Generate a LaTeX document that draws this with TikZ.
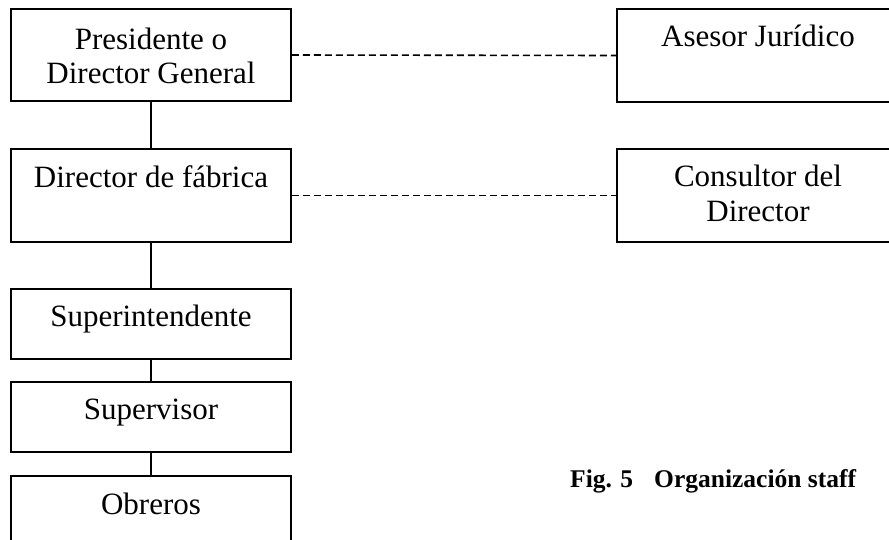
\documentclass[tikz,border=0pt]{standalone}
\usepackage{fontspec}
\setmainfont{Liberation Serif}
\begin{document}
\begin{tikzpicture}[x=1pt,y=-1pt,
  box/.style={draw=black, line width=1.5pt, rectangle, inner sep=0pt},
  lbl/.style={anchor=base, align=center, inner sep=0pt,
    font=\fontsize{31}{34.5}\selectfont},
  staffline/.style={line width=1.6pt, dash pattern=on 7pt off 4pt},
  lineconn/.style={line width=1.5pt}]
  \clip (0,0) rectangle (889,539);
  \fill[white] (0,0) rectangle (889,539);

  % line hierarchy (left column)
  \node[box, minimum width=280pt, minimum height=92pt] (pres) at (151,55) {};
  \node[box, minimum width=280pt, minimum height=93pt] (dir)  at (151,195.5) {};
  \node[box, minimum width=280pt, minimum height=70pt] (sup)  at (151,324) {};
  \node[box, minimum width=280pt, minimum height=70pt] (supv) at (151,417) {};
  \node[box, minimum width=280pt, minimum height=70pt] (obr)  at (151,511) {};

  % staff positions (right column)
  \node[box, minimum width=282pt, minimum height=93pt] (ases) at (758,55.5) {};
  \node[box, minimum width=282pt, minimum height=93pt] (cons) at (758,195.5) {};

  % texts (two-line labels are placed by the baseline of their last line)
  \node[lbl] (tpres) at ([yshift=-75.5pt]pres.north) {Presidente o\\Director General};
  \node[lbl] (tdir)  at ([yshift=-39pt]dir.north)  {Director de fábrica};
  \node[lbl] (tsup)  at ([yshift=-38pt]sup.north)  {Superintendente};
  \node[lbl] (tsupv) at ([yshift=-38pt]supv.north) {Supervisor};
  \node[lbl] (tobr)  at ([yshift=-39pt]obr.north)  {Obreros};
  \node[lbl] (tases) at ([yshift=-38pt]ases.north) {Asesor Jurídico};
  \node[lbl] (tcons) at ([yshift=-73pt]cons.north) {Consultor del\\Director};

  % connectors
  \draw[lineconn] (pres.south) -- (dir.north);
  \draw[lineconn] (dir.south) -- (sup.north);
  \draw[lineconn] (sup.south) -- (supv.north);
  \draw[lineconn] (supv.south) -- (obr.north);
  \draw[staffline] (pres.east) -- (ases.west);
  \draw[staffline] (dir.east) -- (cons.west);

  % caption
  \node[anchor=base west, inner sep=0pt, font=\fontsize{25.5}{29}\selectfont\bfseries]
    (cap) at (570,487) {Fig. 5\hspace{21pt}Organización staff};
\end{tikzpicture}
\end{document}
